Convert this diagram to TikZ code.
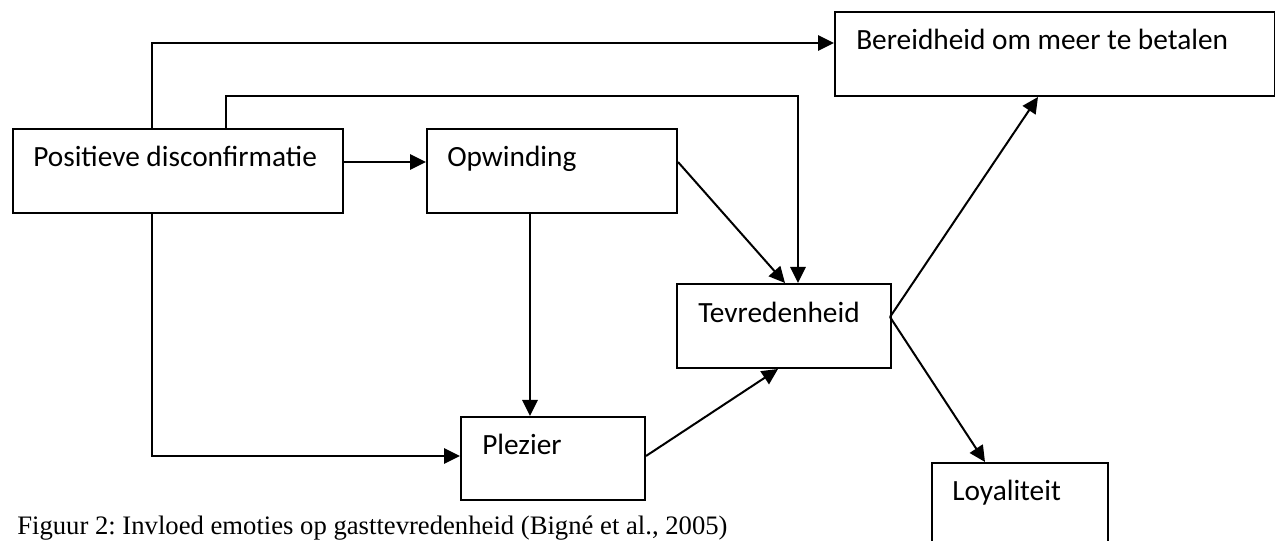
\documentclass[tikz,border=0pt]{standalone}
\usepackage{fontspec}
\setmainfont{Carlito}
\newfontfamily\capfont{Liberation Serif}
\usetikzlibrary{arrows.meta}
\frenchspacing
\tikzset{
  box/.style={draw, line width=1.5pt, inner sep=0pt, rectangle, anchor=north west},
  boxtext/.style={anchor=base west, inner sep=0pt, font=\fontsize{22}{26}\selectfont},
  arr/.style={line width=1.5pt, -{Triangle[length=12pt, width=11.5pt]}},
}
\begin{document}
\begin{tikzpicture}[x=0.75pt, y=-0.75pt]
\clip (0,0) rectangle (1275,541);
\fill[white] (0,0) rectangle (1275,541);

% boxes
\node[box, minimum width=330*0.75pt, minimum height=84*0.75pt] (pd)  at (12,128) {};
\node[box, minimum width=250*0.75pt, minimum height=84*0.75pt] (opw) at (426,128) {};
\node[box, minimum width=440*0.75pt, minimum height=84*0.75pt] (ber) at (834,11) {};
\node[box, minimum width=214*0.75pt, minimum height=84*0.75pt] (tev) at (676,283) {};
\node[box, minimum width=184*0.75pt, minimum height=83*0.75pt] (plz) at (460,416) {};
\node[box, minimum width=176*0.75pt, minimum height=100*0.75pt] (loy) at (931,462) {};

% box labels
\node[boxtext] (tpd)  at (33,167)  {Positieve disconfirmatie};
\node[boxtext] (topw) at (447,167) {Opwinding};
\node[boxtext] (tber) at (856,50)  {Bereidheid om meer te betalen};
\node[boxtext] (ttev) at (698,323) {Tevredenheid};
\node[boxtext] (tplz) at (482,455) {Plezier};
\node[boxtext] (tloy) at (952,500) {Loyaliteit};

% routing points
\coordinate (c1) at (152,43);
\coordinate (c2) at (226,96);
\coordinate (c3) at (798,96);
\coordinate (c4) at (152,456);
\coordinate (r1) at (0,162);
\coordinate (xo) at (530,0);
\coordinate (xt1) at (785,0);
\coordinate (xt2) at (778,0);
\coordinate (tr) at (890,317);
\coordinate (xb) at (1038,0);
\coordinate (xl) at (985,0);

% connectors
\draw[arr] (pd.north -| c1) -- (c1) -- (ber.west |- c1);
\draw[arr] (pd.north -| c2) -- (c2) -- (c3) -- (tev.north -| c3);
\draw[arr] (pd.east |- r1) -- (opw.west |- r1);
\draw[arr] (opw.east |- r1) -- (tev.north -| xt1);
\draw[arr] (opw.south -| xo) -- (plz.north -| xo);
\draw[arr] (pd.south -| c4) -- (c4) -- (plz.west |- c4);
\draw[arr] (plz.east |- c4) -- (tev.south -| xt2);
\draw[arr] (tr) -- (ber.south -| xb);
\draw[arr] (tr) -- (loy.north -| xl);

% caption
\node[anchor=base west, inner sep=0pt, font=\capfont\fontsize{20}{24}\selectfont] (cap) at (17,534)
  {Figuur 2: Invloed emoties op gasttevredenheid (Bigné et al., 2005)};
\end{tikzpicture}
\end{document}
